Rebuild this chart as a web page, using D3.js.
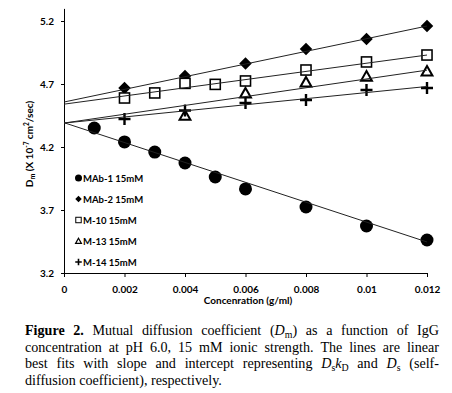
<!DOCTYPE html>
<html><head><meta charset="utf-8">
<script src="https://cdn.jsdelivr.net/npm/d3@7"></script>
<style>body{margin:0;background:#fff}</style>
</head><body>
<svg id="c" width="452" height="393"></svg>
<script>
// ---- data ----
const seriesNames = ["MAb-1 15mM","MAb-2 15mM","M-10 15mM","M-13 15mM","M-14 15mM"];
const xMAb1 = [0.001,0.002,0.003,0.004,0.005,0.006,0.008,0.010,0.012];
const yMAb1 = [4.351,4.240,4.160,4.073,3.962,3.867,3.724,3.573,3.462];
const xMAb2 = [0.002,0.004,0.006,0.008,0.010,0.012];
const yMAb2 = [4.668,4.763,4.863,4.978,5.057,5.160];
const xM10 = [0.002,0.003,0.004,0.005,0.006,0.008,0.010,0.012];
const yM10 = [4.589,4.629,4.705,4.697,4.724,4.811,4.875,4.930];
const xM13 = [0.004,0.006,0.008,0.010,0.012];
const yM13 = [4.452,4.629,4.716,4.763,4.803];
const xM14 = [0.002,0.004,0.006,0.008,0.010,0.012];
const yM14 = [4.422,4.490,4.549,4.573,4.652,4.668];
// linear best-fit lines (intercept Ds, slope Ds*kD)
const fitIntercepts = [4.393,4.557,4.540,4.390,4.390];
const fitSlopes = [-78.9,50.25,32.5,35.0,24.2];
const xTicks = [0,0.002,0.004,0.006,0.008,0.010,0.012];
const xTickLabels = ["0","0.002","0.004","0.006","0.008","0.01","0.012"];
const yTicks = [3.2,3.7,4.2,4.7,5.2];
const yTickLabels = ["3.2","3.7","4.2","4.7","5.2"];
const xDomain = [0,0.012];
const yDomain = [3.2,5.3];

const seriesX = [xMAb1,xMAb2,xM10,xM13,xM14];
const seriesY = [yMAb1,yMAb2,yM10,yM13,yM14];
const markerTypes = ["circle","diamond","square","triangle","plus"];

const svg = d3.select("#c");
const F = "Lato, 'Open Sans', sans-serif";
const x = d3.scaleLinear(xDomain,[64,427]);
const y = d3.scaleLinear(yDomain,[273,8.4]);

// marker drawing
function marker(g, type, s){
  if(type==="circle") g.append("circle").attr("r",s/2).attr("fill","#000");
  else if(type==="diamond") g.append("path").attr("d",`M0,${-s/2}L${s/2},0L0,${s/2}L${-s/2},0Z`).attr("fill","#000");
  else if(type==="square") g.append("rect").attr("x",-s*0.42).attr("y",-s*0.42).attr("width",s*0.84).attr("height",s*0.84)
      .attr("fill","#fff").attr("stroke","#000").attr("stroke-width",Math.max(1,s*0.13));
  else if(type==="triangle") g.append("path").attr("d",`M0,${-s*0.42}L${s*0.45},${s*0.38}L${-s*0.45},${s*0.38}Z`)
      .attr("fill","#fff").attr("stroke","#000").attr("stroke-width",Math.max(1.2,s*0.17)).attr("stroke-linejoin","miter");
  else if(type==="plus") g.append("path").attr("d",`M${-s/2},0H${s/2}M0,${-s/2}V${s/2}`)
      .attr("stroke","#000").attr("stroke-width",Math.max(1.6,s*0.2)).attr("fill","none");
}
const markerSizes = [13,12.5,12,12,12];

// axes
const ya = svg.append("g").attr("transform","translate(64,0)")
  .call(d3.axisLeft(y).tickValues(yTicks).tickFormat((d,i)=>yTickLabels[i]).tickSize(3).tickSizeOuter(0).tickPadding(7));
const xa = svg.append("g").attr("transform","translate(0,273)")
  .call(d3.axisBottom(x).tickValues(xTicks).tickFormat((d,i)=>xTickLabels[i]).tickSize(4).tickSizeOuter(0).tickPadding(9));
[ya,xa].forEach(a=>{
  a.selectAll("path,line").attr("stroke","#000").attr("stroke-width",1);
  a.selectAll("text").attr("font-family",F).attr("font-weight",700).attr("font-size",10).attr("fill","#000");
});

// markers
seriesX.forEach((xs,si)=>{
  const g = svg.append("g");
  xs.forEach((xv,i)=>{
    const m = g.append("g").attr("transform",`translate(${x(xv)},${y(seriesY[si][i])})`);
    marker(m, markerTypes[si], markerSizes[si]);
  });
});

// fit lines
fitIntercepts.forEach((b,si)=>{
  svg.append("line")
    .attr("x1",x(xDomain[0])).attr("y1",y(b))
    .attr("x2",x(xDomain[1])).attr("y2",y(b+fitSlopes[si]*xDomain[1]))
    .attr("stroke","#222").attr("stroke-width",1);
});

// legend
seriesNames.forEach((n,i)=>{
  const yy = 178 + i*21;
  const m = svg.append("g").attr("transform",`translate(78.5,${yy})`);
  marker(m, markerTypes[i], i===0?7:6.5);
  svg.append("text").attr("x",83).attr("y",yy+3.5).text(n)
    .attr("font-family",F).attr("font-weight",700).attr("font-size",9.5).attr("fill","#000");
});

// axis titles
svg.append("text").attr("x",248).attr("y",304).attr("text-anchor","middle")
  .attr("font-family",F).attr("font-weight",700).attr("font-size",10).text("Concenration (g/ml)");
const yt = svg.append("text").attr("transform","translate(33,144) rotate(-90)").attr("text-anchor","middle")
  .attr("font-family",F).attr("font-weight",700).attr("font-size",10);
yt.append("tspan").text("D");
yt.append("tspan").attr("font-size",7).attr("dy",2).text("m");
yt.append("tspan").attr("dy",-2).text(" (X 10");
yt.append("tspan").attr("font-size",6.5).attr("dy",-4).text("-7");
yt.append("tspan").attr("dy",4).text(" cm");
yt.append("tspan").attr("font-size",6.5).attr("dy",-4).text("2");
yt.append("tspan").attr("dy",4).text("/sec)");

// caption (justified)
const SF = "'Liberation Serif', 'DejaVu Serif', serif";
const w = t=>[[t,"r"]];
const lines = [
  [[["Figure","b"]],[["2.","b"]],w("Mutual"),w("diffusion"),w("coefficient"),[["(","r"],["D","i"],["m","sub"],[")","r"]],w("as"),w("a"),w("function"),w("of"),w("IgG")],
  ["concentration","at","pH","6.0,","15","mM","ionic","strength.","The","lines","are","linear"].map(w),
  [w("best"),w("fits"),w("with"),w("slope"),w("and"),w("intercept"),w("representing"),[["D","i"],["s","sub"],["k","i"],["D","sub"]],w("and"),[["D","i"],["s","sub"]],w("(self-")],
  ["diffusion","coefficient),","respectively."].map(w)
];
let fs = 13;
const cap = svg.append("g");
function makeWord(word, xx, yy){
  const t = cap.append("text").attr("x",xx).attr("y",yy).attr("font-family",SF).attr("font-size",fs).attr("fill","#000");
  let shifted = false;
  word.forEach(([s,st])=>{
    const ts = t.append("tspan").text(s);
    if(st==="b") ts.attr("font-weight",700);
    if(st==="i") ts.attr("font-style","italic");
    if(st==="sub"){ ts.attr("font-size",fs*0.7).attr("dy",shifted?0:3); shifted=true; }
    else if(shifted){ ts.attr("dy",-3); shifted=false; }
  });
  return t;
}
// scale font to match last line width
{
  const tmp = lines[3].map(wd=>makeWord(wd,0,-100));
  const widths = tmp.map(t=>t.node().getComputedTextLength());
  const sp = fs*0.25;
  const total = d3.sum(widths)+sp*(widths.length-1);
  tmp.forEach(t=>t.remove());
  fs = fs*197/total;
}
const baseY = [335,351.5,368,384.5];
const L = 25, R = 439;
lines.forEach((ln,li)=>{
  const ts = ln.map(wd=>makeWord(wd,0,baseY[li]));
  const widths = ts.map(t=>t.node().getComputedTextLength());
  const gap = li<3 ? (R-L-d3.sum(widths))/(ts.length-1) : fs*0.25;
  let cx = L;
  ts.forEach((t,i)=>{ t.attr("x",cx); cx += widths[i]+gap; });
});
</script>
</body></html>
